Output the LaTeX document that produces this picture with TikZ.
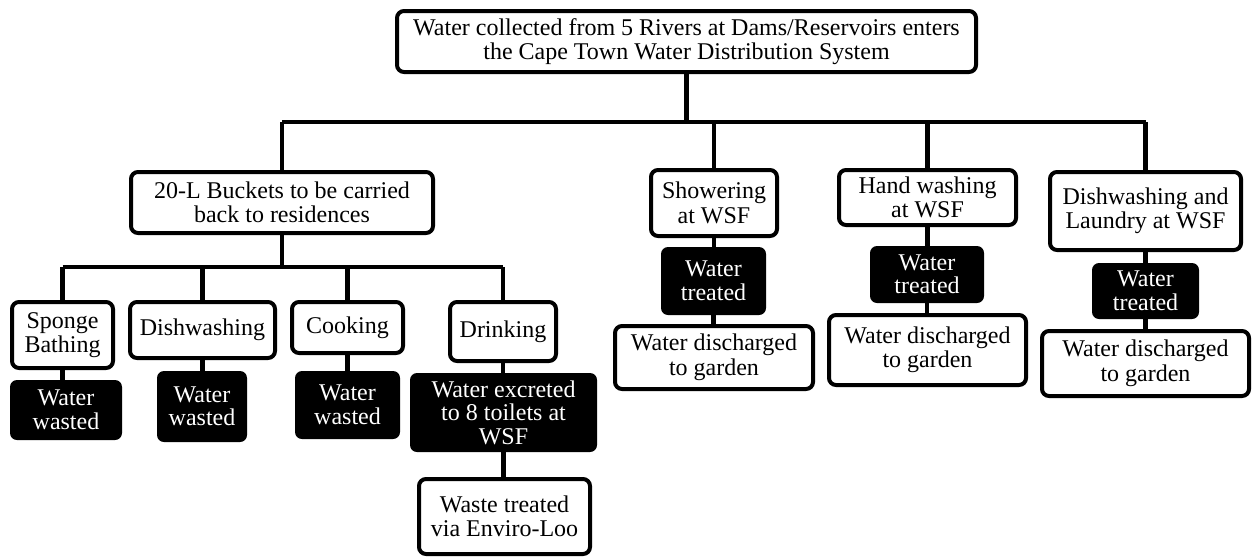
\documentclass[tikz,border=0pt]{standalone}
\usepackage{fontspec}
\setmainfont{Liberation Serif}
\begin{document}
\begin{tikzpicture}[x=1pt,y=-1pt,
  wbox/.style={draw=black,line width=4pt,rounded corners=7pt,fill=white,align=center,inner sep=0pt,
     font=\fontsize{24}{24.5}\selectfont},
  bbox/.style={fill=black,text=white,rounded corners=7pt,align=center,inner sep=0pt,
     font=\fontsize{24}{23.5}\selectfont},
  link/.style={line width=4.5pt}]
\useasboundingbox (0,0) rectangle (1252,557);
% white boxes
\node[wbox,minimum width=579pt,minimum height=61pt] (top) at (686.5,41.5) {Water collected from 5 Rivers at Dams/Reservoirs enters\\the Cape Town Water Distribution System};
\node[wbox,minimum width=302pt,minimum height=61pt] (buckets) at (282,202.5) {20-L Buckets to be carried\\back to residences};
\node[wbox,minimum width=126pt,minimum height=66pt] (shower) at (714,203) {Showering\\at WSF};
\node[wbox,minimum width=177pt,minimum height=55pt] (hand) at (927.5,197.5) {Hand washing\\at WSF};
\node[wbox,minimum width=191pt,minimum height=78pt] (dl) at (1145.5,211) {Dishwashing and\\Laundry at WSF};
\node[wbox,minimum width=101pt,minimum height=66pt] (sponge) at (62.5,335) {Sponge\\Bathing};
\node[wbox,minimum width=145pt,minimum height=56pt] (dish) at (202.5,330) {Dishwashing};
\node[wbox,minimum width=111pt,minimum height=51pt] (cook) at (347.5,327.5) {Cooking};
\node[wbox,minimum width=106pt,minimum height=59pt] (drink) at (503,331.5) {Drinking};
\node[wbox,minimum width=171pt,minimum height=75pt] (waste) at (504.5,516.5) {Waste treated\\via Enviro-Loo};
\node[wbox,minimum width=198pt,minimum height=63pt] (shdis) at (714,357.5) {Water discharged\\to garden};
\node[wbox,minimum width=197pt,minimum height=70pt] (hwdis) at (927.5,350) {Water discharged\\to garden};
\node[wbox,minimum width=207pt,minimum height=65pt] (dldis) at (1145.5,363.5) {Water discharged\\to garden};
% black boxes
\node[bbox,minimum width=112pt,minimum height=60pt] (bw1) at (66,410) {Water\\wasted};
\node[bbox,minimum width=90pt,minimum height=71pt] (bw2) at (202,406.5) {Water\\wasted};
\node[bbox,minimum width=105pt,minimum height=68pt] (bw3) at (347.5,405) {Water\\wasted};
\node[bbox,minimum width=187pt,minimum height=79pt] (excr) at (503.5,412.5) {Water excreted\\to 8 toilets at\\WSF};
\node[bbox,minimum width=105pt,minimum height=68pt] (shtr) at (713.5,281) {Water\\treated};
\node[bbox,minimum width=114pt,minimum height=57pt] (hwtr) at (927,274.5) {Water\\treated};
\node[bbox,minimum width=107pt,minimum height=56pt] (dltr) at (1145.5,291) {Water\\treated};
% junction coordinates
\coordinate (barA) at (282,122);
\coordinate (barB) at (1145.5,122);
\coordinate (barC) at (62.5,267);
\coordinate (barD) at (503,267);
\begin{scope}[link]
\draw (top.south) -- (top.south |- barA);
\draw (barA) -- (barB);
\draw (buckets.north) -- (barA);
\draw (shower.north) -- (shower.north |- barA);
\draw (hand.north) -- (hand.north |- barA);
\draw (dl.north) -- (barB);
\draw (buckets.south) -- (buckets.south |- barC);
\draw (barC) -- (barD);
\draw (sponge.north) -- (barC);
\draw (dish.north) -- (dish.north |- barC);
\draw (cook.north) -- (cook.north |- barC);
\draw (drink.north) -- (barD);
\draw (sponge.south) -- (sponge.south |- bw1.north);
\draw (dish.south) -- (dish.south |- bw2.north);
\draw (cook.south) -- (cook.south |- bw3.north);
\draw (drink.south) -- (drink.south |- excr.north);
\draw (excr.south) -- (excr.south |- waste.north);
\draw (shower.south) -- (shower.south |- shtr.north);
\draw (shtr.south) -- (shtr.south |- shdis.north);
\draw (hand.south) -- (hand.south |- hwtr.north);
\draw (hwtr.south) -- (hwtr.south |- hwdis.north);
\draw (dl.south) -- (dl.south |- dltr.north);
\draw (dltr.south) -- (dltr.south |- dldis.north);
\end{scope}
\end{tikzpicture}
\end{document}
